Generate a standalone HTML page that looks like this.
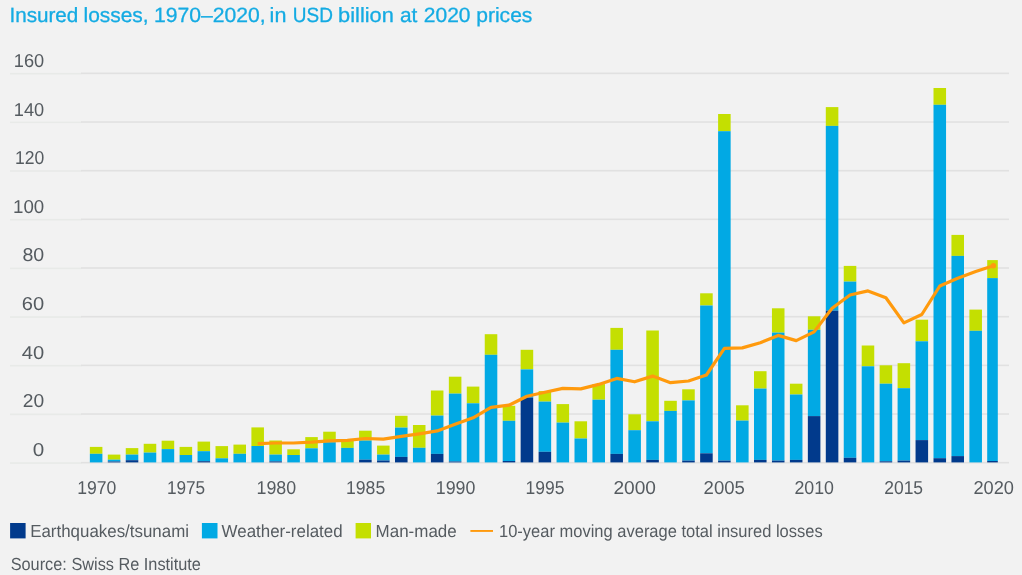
<!DOCTYPE html>
<html lang="en"><head><meta charset="utf-8"><title>Insured losses, 1970–2020</title>
<style>
html,body{margin:0;padding:0;background:#f2f2f2;}
body{width:1022px;height:575px;overflow:hidden;}
svg{display:block;will-change:transform;opacity:0.9999;}
text{font-family:"Liberation Sans",sans-serif;text-rendering:geometricPrecision;}
.t{fill:#555b60;font-size:18.6px;}
.ttl{fill:#14abe3;font-size:20.6px;stroke:#14abe3;stroke-width:0.3px;}
.l{fill:#555b60;font-size:17.5px;}
</style></head><body>
<svg width="1022" height="575" viewBox="0 0 1022 575">
<rect width="1022" height="575" fill="#f2f2f2"/>
<text class="ttl" y="21.9"><tspan x="9.4" textLength="69.0" lengthAdjust="spacingAndGlyphs">Insured</tspan> <tspan x="83.5" textLength="65.1" lengthAdjust="spacingAndGlyphs">losses,</tspan> <tspan x="153.9" textLength="111.7" lengthAdjust="spacingAndGlyphs">1970–2020,</tspan> <tspan x="269.6" textLength="16.8" lengthAdjust="spacingAndGlyphs">in</tspan> <tspan x="292.8" textLength="40.1" lengthAdjust="spacingAndGlyphs">USD</tspan> <tspan x="338.1" textLength="55.7" lengthAdjust="spacingAndGlyphs">billion</tspan> <tspan x="399.9" textLength="17.4" lengthAdjust="spacingAndGlyphs">at</tspan> <tspan x="423.8" textLength="46.7" lengthAdjust="spacingAndGlyphs">2020</tspan> <tspan x="476.2" textLength="56.2" lengthAdjust="spacingAndGlyphs">prices</tspan> </text>
<rect x="10" y="462.25" width="71.5" height="1.6" fill="#e8eae8"/><rect x="81" y="461.90" width="928" height="1.6" fill="#e1e1e1"/>
<text class="t" x="32.7" y="455.6" textLength="11.5" lengthAdjust="spacingAndGlyphs">0</text>
<rect x="10" y="413.58" width="71.5" height="1.6" fill="#e8eae8"/><rect x="81" y="413.23" width="928" height="1.6" fill="#e1e1e1"/>
<text class="t" x="22.8" y="407.0" textLength="21.4" lengthAdjust="spacingAndGlyphs">20</text>
<rect x="10" y="364.91" width="71.5" height="1.6" fill="#e8eae8"/><rect x="81" y="364.56" width="928" height="1.6" fill="#e1e1e1"/>
<text class="t" x="21.8" y="358.5" textLength="22.4" lengthAdjust="spacingAndGlyphs">40</text>
<rect x="10" y="316.24" width="71.5" height="1.6" fill="#e8eae8"/><rect x="81" y="315.89" width="928" height="1.6" fill="#e1e1e1"/>
<text class="t" x="21.8" y="310.0" textLength="22.4" lengthAdjust="spacingAndGlyphs">60</text>
<rect x="10" y="267.57" width="71.5" height="1.6" fill="#e8eae8"/><rect x="81" y="267.22" width="928" height="1.6" fill="#e1e1e1"/>
<text class="t" x="22.4" y="261.4" textLength="21.8" lengthAdjust="spacingAndGlyphs">80</text>
<rect x="10" y="218.90" width="71.5" height="1.6" fill="#e8eae8"/><rect x="81" y="218.55" width="928" height="1.6" fill="#e1e1e1"/>
<text class="t" x="13.0" y="212.9" textLength="31.2" lengthAdjust="spacingAndGlyphs">100</text>
<rect x="10" y="170.23" width="71.5" height="1.6" fill="#e8eae8"/><rect x="81" y="169.88" width="928" height="1.6" fill="#e1e1e1"/>
<text class="t" x="14.9" y="164.4" textLength="29.3" lengthAdjust="spacingAndGlyphs">120</text>
<rect x="10" y="121.56" width="71.5" height="1.6" fill="#e8eae8"/><rect x="81" y="121.21" width="928" height="1.6" fill="#e1e1e1"/>
<text class="t" x="13.8" y="115.8" textLength="30.4" lengthAdjust="spacingAndGlyphs">140</text>
<rect x="10" y="72.89" width="71.5" height="1.6" fill="#e8eae8"/><rect x="81" y="72.54" width="928" height="1.6" fill="#e1e1e1"/>
<text class="t" x="13.8" y="67.3" textLength="30.4" lengthAdjust="spacingAndGlyphs">160</text>
<g shape-rendering="auto">
<rect x="89.85" y="446.90" width="12.55" height="6.90" fill="#c4df00"/><rect x="89.85" y="453.80" width="12.55" height="8.60" fill="#00a9e4"/>
<rect x="107.80" y="454.60" width="12.55" height="5.10" fill="#c4df00"/><rect x="107.80" y="459.70" width="12.55" height="1.80" fill="#00a9e4"/><rect x="107.80" y="461.50" width="12.55" height="0.90" fill="#003a8c"/>
<rect x="125.75" y="448.10" width="12.55" height="6.50" fill="#c4df00"/><rect x="125.75" y="454.60" width="12.55" height="5.60" fill="#00a9e4"/><rect x="125.75" y="460.20" width="12.55" height="2.20" fill="#003a8c"/>
<rect x="143.70" y="443.80" width="12.55" height="8.80" fill="#c4df00"/><rect x="143.70" y="452.60" width="12.55" height="9.80" fill="#00a9e4"/>
<rect x="161.65" y="440.70" width="12.55" height="8.40" fill="#c4df00"/><rect x="161.65" y="449.10" width="12.55" height="13.30" fill="#00a9e4"/>
<rect x="179.60" y="446.90" width="12.55" height="8.10" fill="#c4df00"/><rect x="179.60" y="455.00" width="12.55" height="7.40" fill="#00a9e4"/>
<rect x="197.55" y="441.60" width="12.55" height="9.60" fill="#c4df00"/><rect x="197.55" y="451.20" width="12.55" height="10.00" fill="#00a9e4"/><rect x="197.55" y="461.20" width="12.55" height="1.20" fill="#003a8c"/>
<rect x="215.50" y="446.10" width="12.55" height="12.20" fill="#c4df00"/><rect x="215.50" y="458.30" width="12.55" height="4.10" fill="#00a9e4"/>
<rect x="233.45" y="444.60" width="12.55" height="9.20" fill="#c4df00"/><rect x="233.45" y="453.80" width="12.55" height="8.60" fill="#00a9e4"/>
<rect x="251.40" y="427.40" width="12.55" height="18.60" fill="#c4df00"/><rect x="251.40" y="446.00" width="12.55" height="16.40" fill="#00a9e4"/>
<rect x="269.35" y="440.50" width="12.55" height="14.10" fill="#c4df00"/><rect x="269.35" y="454.60" width="12.55" height="6.80" fill="#00a9e4"/><rect x="269.35" y="461.40" width="12.55" height="1.00" fill="#003a8c"/>
<rect x="287.30" y="449.30" width="12.55" height="5.70" fill="#c4df00"/><rect x="287.30" y="455.00" width="12.55" height="7.40" fill="#00a9e4"/>
<rect x="305.25" y="437.10" width="12.55" height="11.20" fill="#c4df00"/><rect x="305.25" y="448.30" width="12.55" height="14.10" fill="#00a9e4"/>
<rect x="323.20" y="431.70" width="12.55" height="10.50" fill="#c4df00"/><rect x="323.20" y="442.20" width="12.55" height="20.20" fill="#00a9e4"/>
<rect x="341.15" y="440.00" width="12.55" height="7.90" fill="#c4df00"/><rect x="341.15" y="447.90" width="12.55" height="14.50" fill="#00a9e4"/>
<rect x="359.10" y="430.70" width="12.55" height="9.80" fill="#c4df00"/><rect x="359.10" y="440.50" width="12.55" height="19.20" fill="#00a9e4"/><rect x="359.10" y="459.70" width="12.55" height="2.70" fill="#003a8c"/>
<rect x="377.05" y="445.60" width="12.55" height="9.00" fill="#c4df00"/><rect x="377.05" y="454.60" width="12.55" height="5.90" fill="#00a9e4"/><rect x="377.05" y="460.50" width="12.55" height="1.90" fill="#003a8c"/>
<rect x="395.00" y="415.80" width="12.55" height="11.80" fill="#c4df00"/><rect x="395.00" y="427.60" width="12.55" height="29.30" fill="#00a9e4"/><rect x="395.00" y="456.90" width="12.55" height="5.50" fill="#003a8c"/>
<rect x="412.95" y="425.00" width="12.55" height="22.80" fill="#c4df00"/><rect x="412.95" y="447.80" width="12.55" height="14.60" fill="#00a9e4"/>
<rect x="430.90" y="390.50" width="12.55" height="25.10" fill="#c4df00"/><rect x="430.90" y="415.60" width="12.55" height="38.30" fill="#00a9e4"/><rect x="430.90" y="453.90" width="12.55" height="8.50" fill="#003a8c"/>
<rect x="448.85" y="376.70" width="12.55" height="16.90" fill="#c4df00"/><rect x="448.85" y="393.60" width="12.55" height="67.90" fill="#00a9e4"/><rect x="448.85" y="461.50" width="12.55" height="0.90" fill="#003a8c"/>
<rect x="466.80" y="386.60" width="12.55" height="16.70" fill="#c4df00"/><rect x="466.80" y="403.30" width="12.55" height="59.10" fill="#00a9e4"/>
<rect x="484.75" y="334.20" width="12.55" height="20.60" fill="#c4df00"/><rect x="484.75" y="354.80" width="12.55" height="107.60" fill="#00a9e4"/>
<rect x="502.70" y="405.80" width="12.55" height="15.00" fill="#c4df00"/><rect x="502.70" y="420.80" width="12.55" height="40.20" fill="#00a9e4"/><rect x="502.70" y="461.00" width="12.55" height="1.40" fill="#003a8c"/>
<rect x="520.65" y="349.80" width="12.55" height="19.60" fill="#c4df00"/><rect x="520.65" y="369.40" width="12.55" height="28.20" fill="#00a9e4"/><rect x="520.65" y="397.60" width="12.55" height="64.80" fill="#003a8c"/>
<rect x="538.60" y="391.10" width="12.55" height="10.50" fill="#c4df00"/><rect x="538.60" y="401.60" width="12.55" height="50.20" fill="#00a9e4"/><rect x="538.60" y="451.80" width="12.55" height="10.60" fill="#003a8c"/>
<rect x="556.55" y="404.10" width="12.55" height="18.50" fill="#c4df00"/><rect x="556.55" y="422.60" width="12.55" height="39.80" fill="#00a9e4"/>
<rect x="574.50" y="421.30" width="12.55" height="17.20" fill="#c4df00"/><rect x="574.50" y="438.50" width="12.55" height="23.90" fill="#00a9e4"/>
<rect x="592.45" y="384.10" width="12.55" height="15.60" fill="#c4df00"/><rect x="592.45" y="399.70" width="12.55" height="62.70" fill="#00a9e4"/>
<rect x="610.40" y="327.90" width="12.55" height="21.90" fill="#c4df00"/><rect x="610.40" y="349.80" width="12.55" height="104.10" fill="#00a9e4"/><rect x="610.40" y="453.90" width="12.55" height="8.50" fill="#003a8c"/>
<rect x="628.35" y="414.30" width="12.55" height="15.90" fill="#c4df00"/><rect x="628.35" y="430.20" width="12.55" height="32.20" fill="#00a9e4"/>
<rect x="646.30" y="330.50" width="12.55" height="90.80" fill="#c4df00"/><rect x="646.30" y="421.30" width="12.55" height="38.60" fill="#00a9e4"/><rect x="646.30" y="459.90" width="12.55" height="2.50" fill="#003a8c"/>
<rect x="664.25" y="400.80" width="12.55" height="10.10" fill="#c4df00"/><rect x="664.25" y="410.90" width="12.55" height="51.50" fill="#00a9e4"/>
<rect x="682.20" y="389.30" width="12.55" height="11.10" fill="#c4df00"/><rect x="682.20" y="400.40" width="12.55" height="60.20" fill="#00a9e4"/><rect x="682.20" y="460.60" width="12.55" height="1.80" fill="#003a8c"/>
<rect x="700.15" y="293.30" width="12.55" height="12.20" fill="#c4df00"/><rect x="700.15" y="305.50" width="12.55" height="147.80" fill="#00a9e4"/><rect x="700.15" y="453.30" width="12.55" height="9.10" fill="#003a8c"/>
<rect x="718.10" y="114.00" width="12.55" height="17.20" fill="#c4df00"/><rect x="718.10" y="131.20" width="12.55" height="329.40" fill="#00a9e4"/><rect x="718.10" y="460.60" width="12.55" height="1.80" fill="#003a8c"/>
<rect x="736.05" y="405.30" width="12.55" height="15.30" fill="#c4df00"/><rect x="736.05" y="420.60" width="12.55" height="41.80" fill="#00a9e4"/>
<rect x="754.00" y="371.20" width="12.55" height="17.40" fill="#c4df00"/><rect x="754.00" y="388.60" width="12.55" height="71.30" fill="#00a9e4"/><rect x="754.00" y="459.90" width="12.55" height="2.50" fill="#003a8c"/>
<rect x="771.95" y="308.30" width="12.55" height="24.30" fill="#c4df00"/><rect x="771.95" y="332.60" width="12.55" height="128.00" fill="#00a9e4"/><rect x="771.95" y="460.60" width="12.55" height="1.80" fill="#003a8c"/>
<rect x="789.90" y="383.70" width="12.55" height="10.80" fill="#c4df00"/><rect x="789.90" y="394.50" width="12.55" height="65.40" fill="#00a9e4"/><rect x="789.90" y="459.90" width="12.55" height="2.50" fill="#003a8c"/>
<rect x="807.85" y="316.30" width="12.55" height="13.50" fill="#c4df00"/><rect x="807.85" y="329.80" width="12.55" height="86.30" fill="#00a9e4"/><rect x="807.85" y="416.10" width="12.55" height="46.30" fill="#003a8c"/>
<rect x="825.80" y="107.10" width="12.55" height="18.80" fill="#c4df00"/><rect x="825.80" y="125.90" width="12.55" height="184.80" fill="#00a9e4"/><rect x="825.80" y="310.70" width="12.55" height="151.70" fill="#003a8c"/>
<rect x="843.75" y="265.90" width="12.55" height="15.70" fill="#c4df00"/><rect x="843.75" y="281.60" width="12.55" height="176.20" fill="#00a9e4"/><rect x="843.75" y="457.80" width="12.55" height="4.60" fill="#003a8c"/>
<rect x="861.70" y="345.50" width="12.55" height="20.80" fill="#c4df00"/><rect x="861.70" y="366.30" width="12.55" height="96.10" fill="#00a9e4"/>
<rect x="879.65" y="365.30" width="12.55" height="18.40" fill="#c4df00"/><rect x="879.65" y="383.70" width="12.55" height="77.60" fill="#00a9e4"/><rect x="879.65" y="461.30" width="12.55" height="1.10" fill="#003a8c"/>
<rect x="897.60" y="363.20" width="12.55" height="25.00" fill="#c4df00"/><rect x="897.60" y="388.20" width="12.55" height="72.40" fill="#00a9e4"/><rect x="897.60" y="460.60" width="12.55" height="1.80" fill="#003a8c"/>
<rect x="915.55" y="319.70" width="12.55" height="21.60" fill="#c4df00"/><rect x="915.55" y="341.30" width="12.55" height="98.80" fill="#00a9e4"/><rect x="915.55" y="440.10" width="12.55" height="22.30" fill="#003a8c"/>
<rect x="933.50" y="88.00" width="12.55" height="16.80" fill="#c4df00"/><rect x="933.50" y="104.80" width="12.55" height="353.40" fill="#00a9e4"/><rect x="933.50" y="458.20" width="12.55" height="4.20" fill="#003a8c"/>
<rect x="951.45" y="234.90" width="12.55" height="21.00" fill="#c4df00"/><rect x="951.45" y="255.90" width="12.55" height="200.20" fill="#00a9e4"/><rect x="951.45" y="456.10" width="12.55" height="6.30" fill="#003a8c"/>
<rect x="969.40" y="309.60" width="12.55" height="21.20" fill="#c4df00"/><rect x="969.40" y="330.80" width="12.55" height="131.60" fill="#00a9e4"/>
<rect x="987.20" y="260.10" width="10.60" height="18.00" fill="#c4df00"/><rect x="987.20" y="278.10" width="10.60" height="182.90" fill="#00a9e4"/><rect x="987.20" y="461.00" width="10.60" height="1.40" fill="#003a8c"/>
</g>
<polyline points="257.7,443.6 275.6,443.0 293.6,443.0 311.5,442.2 329.5,440.9 347.4,440.3 365.4,438.5 383.3,439.1 401.3,436.4 419.2,433.8 437.2,430.9 455.1,424.2 473.1,417.8 491.0,407.4 509.0,405.2 526.9,396.2 544.9,392.3 562.8,388.4 580.8,388.9 598.7,384.4 616.7,378.4 634.6,381.8 652.6,376.1 670.5,382.7 688.5,381.0 706.4,375.0 724.4,348.3 742.3,347.9 760.3,342.7 778.2,335.4 796.2,340.6 814.1,331.9 832.1,308.3 850.0,295.0 868.0,290.9 885.9,297.8 903.9,322.9 921.8,314.5 939.8,286.0 957.7,278.2 975.7,271.6 993.4,265.7" fill="none" stroke="#ff9a0d" stroke-width="3.2" stroke-linejoin="round"/>
<circle cx="993.4" cy="265.7" r="2.7" fill="#ff9a0d"/>
<text class="t" x="77.2" y="494.3" textLength="39.2" lengthAdjust="spacingAndGlyphs">1970</text>
<text class="t" x="166.9" y="494.3" textLength="38.3" lengthAdjust="spacingAndGlyphs">1975</text>
<text class="t" x="256.5" y="494.3" textLength="39.6" lengthAdjust="spacingAndGlyphs">1980</text>
<text class="t" x="346.0" y="494.3" textLength="39.2" lengthAdjust="spacingAndGlyphs">1985</text>
<text class="t" x="435.8" y="494.3" textLength="39.6" lengthAdjust="spacingAndGlyphs">1990</text>
<text class="t" x="525.5" y="494.3" textLength="38.9" lengthAdjust="spacingAndGlyphs">1995</text>
<text class="t" x="613.4" y="494.3" textLength="42.6" lengthAdjust="spacingAndGlyphs">2000</text>
<text class="t" x="703.6" y="494.3" textLength="41.3" lengthAdjust="spacingAndGlyphs">2005</text>
<text class="t" x="794.4" y="494.3" textLength="39.6" lengthAdjust="spacingAndGlyphs">2010</text>
<text class="t" x="884.2" y="494.3" textLength="38.9" lengthAdjust="spacingAndGlyphs">2015</text>
<text class="t" x="973.4" y="494.3" textLength="40.6" lengthAdjust="spacingAndGlyphs">2020</text>
<rect x="10.1" y="523" width="15.5" height="15.4" fill="#003a8c"/>
<text class="l" x="30.2" y="537.3" textLength="158.8" lengthAdjust="spacingAndGlyphs">Earthquakes/tsunami</text>
<rect x="201.9" y="523" width="15.6" height="15.4" fill="#00a9e4"/>
<text class="l" x="221.6" y="537.3" textLength="121" lengthAdjust="spacingAndGlyphs">Weather-related</text>
<rect x="355.6" y="523" width="15.4" height="15.4" fill="#c4df00"/>
<text class="l" x="375.6" y="537.3" textLength="81.1" lengthAdjust="spacingAndGlyphs">Man-made</text>
<rect x="470.4" y="530" width="22.6" height="1.9" fill="#ff9a0d"/>
<text class="l" x="499" y="537.3" textLength="323.7" lengthAdjust="spacingAndGlyphs">10-year moving average total insured losses</text>
<text class="l" x="10.7" y="569.8" textLength="190.2" lengthAdjust="spacingAndGlyphs">Source: Swiss Re Institute</text>
</svg>
</body></html>
